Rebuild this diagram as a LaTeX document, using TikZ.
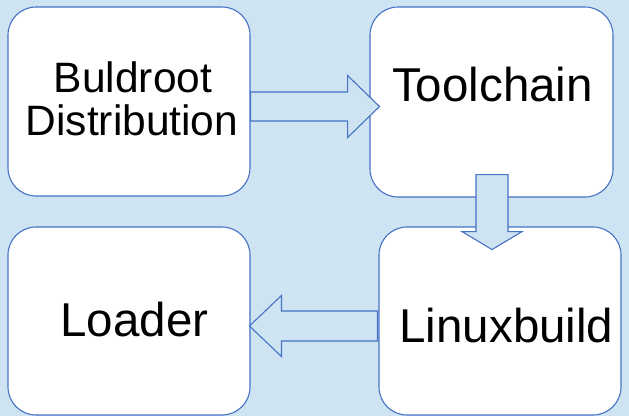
\documentclass[tikz,border=0pt]{standalone}
\usepackage{fontspec}
\setmainfont{Liberation Sans}
\usetikzlibrary{calc}

\definecolor{skyback}{RGB}{207,228,243}
\definecolor{boxline}{RGB}{68,114,196}

\tikzset{
  stagebox/.style={draw=boxline, line width=1.1pt, fill=white, rounded corners=28pt,
    inner sep=0pt, minimum width=242pt, minimum height=189pt},
  blockarrow/.style={draw=boxline, line width=1.1pt, fill=skyback, line join=miter},
  bigtext/.style={anchor=base, inner sep=0pt, font=\fontsize{47.5}{55}\selectfont},
  midtext/.style={anchor=base, inner sep=0pt, font=\fontsize{42.5}{43}\selectfont}
}

\begin{document}
\begin{tikzpicture}[x=1pt,y=-1pt]

\fill[skyback] (0,0) rectangle (629,416);
\useasboundingbox (0,0) rectangle (629,416);

\node[stagebox] (dist) at (129,101.5) {};
\node[stagebox, minimum width=243pt, minimum height=190pt] (tool) at (491.5,102) {};
\node[stagebox, minimum height=188pt] (load) at (129,321) {};
\node[stagebox, minimum height=188pt] (linux) at (500,321) {};

\node[midtext] (dist-a) at (133,92) {Buldroot};
\node[midtext] (dist-b) at (132,135) {Distribution};
\node[bigtext] (tool-t) at (492.5,101) {Toolchain};
\node[bigtext] (load-t) at (134.5,336) {Loader};
\node[bigtext] (linux-t) at (506.5,342) {Linuxbuild};

% block arrows between the stages
\coordinate (r0) at ($(dist.east)+(0,5)$);
\draw[blockarrow] (r0) ++(0,-14.5) -- ++(97,0) -- ++(0,-16.5) -- ++(32,31)
  -- ++(-32,31) -- ++(0,-16.5) -- ++(-97,0) -- cycle;

\coordinate (d0) at ($(tool.south)+(0.5,-23)$);
\draw[blockarrow] (d0) ++(-16,0) -- ++(32,0) -- ++(0,57) -- ++(14,0)
  -- ++(-30,18) -- ++(-30,-18) -- ++(14,0) -- cycle;

\coordinate (l0) at ($(linux.west)+(-1,5)$);
\draw[blockarrow] (l0) ++(0,-15) -- ++(-96,0) -- ++(0,-15.5) -- ++(-32,30.5)
  -- ++(32,30.5) -- ++(0,-15.5) -- ++(96,0) -- cycle;

\end{tikzpicture}
\end{document}
